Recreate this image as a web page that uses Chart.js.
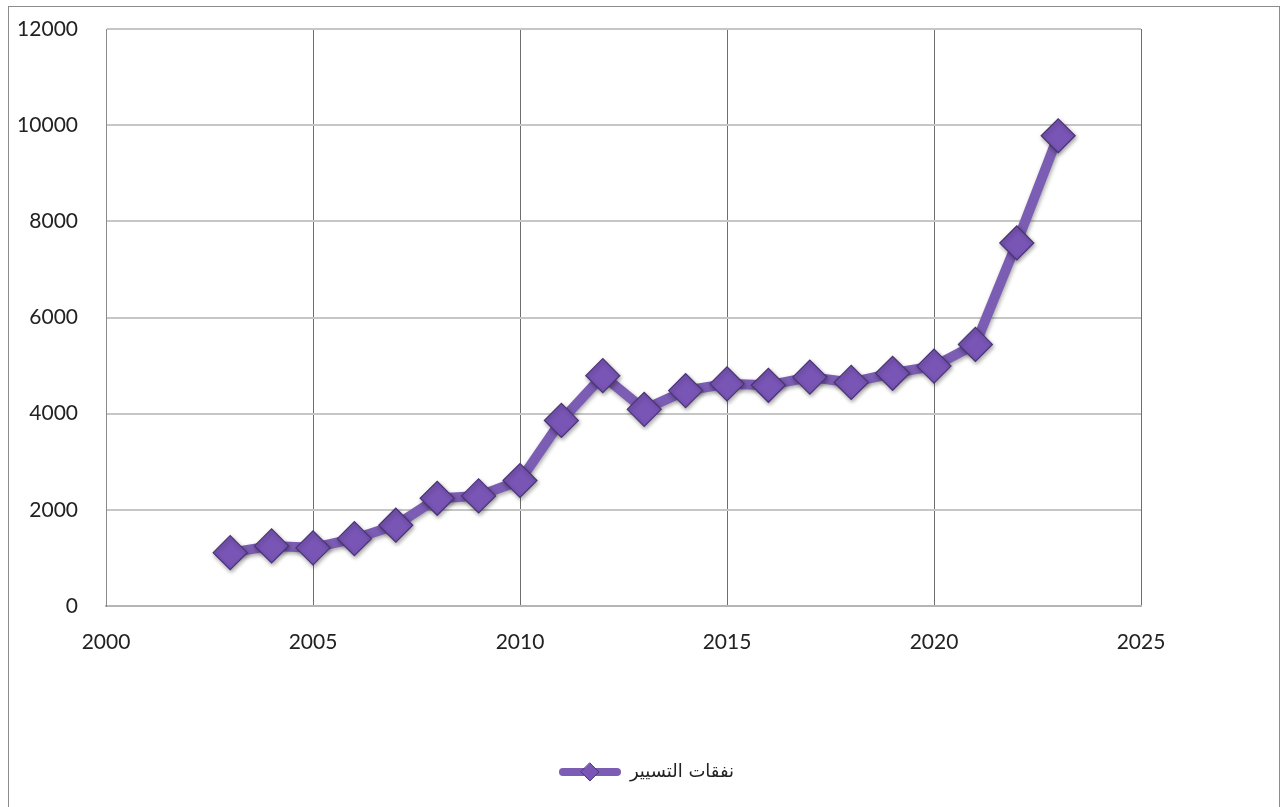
<!DOCTYPE html>
<html>
<head>
<meta charset="utf-8">
<script src="https://cdn.jsdelivr.net/npm/chart.js@4.4.0/dist/chart.umd.min.js"></script>
<style>
  html, body { margin: 0; padding: 0; background: #fff; overflow: hidden; }
  #frame { position: absolute; left: 8px; top: 6px; width: 1270px; height: 900px; border: 1px solid #8c8c8c; }
  #wrap { position: absolute; left: 0; top: 0; width: 1281px; height: 807px; }
</style>
</head>
<body>
<div id="frame"></div>
<div id="wrap"><canvas id="chart" width="1281" height="807"></canvas></div>
<script>
/* ---- data ---- */
const years = [2003, 2004, 2005, 2006, 2007, 2008, 2009, 2010, 2011, 2012, 2013,
               2014, 2015, 2016, 2017, 2018, 2019, 2020, 2021, 2022, 2023];
const spending = [1110, 1250, 1210, 1400, 1680, 2240, 2290, 2610, 3860, 4790, 4090,
                  4480, 4620, 4590, 4760, 4650, 4840, 4990, 5440, 7550, 9780];
const seriesLabel = 'نفقات التسيير';
const xTicks = { min: 2000, max: 2025, step: 5 };
const yTicks = { min: 0, max: 12000, step: 2000 };

const LINE = '#7c5db4';
const FILL = '#7955b6';
const EDGE = '#4a3374';

// legend marker: short thick line with a diamond in the middle
function legendMarker() {
  const c = document.createElement('canvas');
  c.width = 62; c.height = 22;
  const g = c.getContext('2d');
  g.strokeStyle = LINE; g.lineWidth = 8; g.lineCap = 'round';
  g.beginPath(); g.moveTo(4, 11); g.lineTo(58, 11); g.stroke();
  g.fillStyle = FILL; g.strokeStyle = EDGE; g.lineWidth = 1;
  g.beginPath(); g.moveTo(31, 2); g.lineTo(40, 11); g.lineTo(31, 20); g.lineTo(22, 11); g.closePath();
  g.fill(); g.stroke();
  return c;
}

const shadow = {
  id: 'shadow',
  beforeDatasetDraw(chart) {
    const ctx = chart.ctx;
    ctx.save();
    ctx.shadowColor = 'rgba(0,0,0,0.35)';
    ctx.shadowBlur = 4;
    ctx.shadowOffsetX = 1;
    ctx.shadowOffsetY = 2;
  },
  afterDatasetDraw(chart) { chart.ctx.restore(); }
};

const tickFont = { family: 'Lato, "Open Sans", sans-serif', size: 21 };

new Chart(document.getElementById('chart'), {
  type: 'line',
  data: {
    datasets: [{
      label: seriesLabel,
      data: years.map((y, i) => ({ x: y, y: spending[i] })),
      borderColor: LINE,
      borderWidth: 10,
      tension: 0,
      pointStyle: 'rectRot',
      pointRadius: 17,
      pointHoverRadius: 17,
      pointBackgroundColor: FILL,
      pointBorderColor: EDGE,
      pointBorderWidth: 1.2,
    }]
  },
  options: {
    responsive: false,
    animation: false,
    layout: { padding: { left: 12, right: 0, top: 29, bottom: 16 } },
    plugins: {
      tooltip: { enabled: false },
      legend: {
        position: 'bottom',
        labels: {
          usePointStyle: true,
          pointStyleWidth: 62,
          padding: 10,
          color: '#222',
          font: { family: '"DejaVu Sans", sans-serif', size: 18 },
          generateLabels: chart => [{
            text: seriesLabel,
            pointStyle: legendMarker(),
            datasetIndex: 0,
            fontColor: '#222',
            lineWidth: 0,
          }]
        }
      }
    },
    scales: {
      x: {
        type: 'linear',
        min: xTicks.min, max: xTicks.max,
        afterFit: s => { s.height = 147; },
        ticks: { stepSize: xTicks.step, padding: 24, color: '#222', font: tickFont, callback: v => String(v) },
        grid: { color: '#6e6e6e', lineWidth: 1, drawTicks: false },
        border: { color: '#b5b5b5', width: 2 },
      },
      y: {
        min: yTicks.min, max: yTicks.max,
        // keep the wide label gap from pushing the plot down
        afterFit: s => { s.width = 94; s.paddingTop = 11; s.paddingBottom = 11; },
        ticks: { stepSize: yTicks.step, padding: 28, color: '#222', font: tickFont, callback: v => String(v) },
        grid: { color: '#c6c6c6', lineWidth: 2, drawTicks: false },
        border: { color: '#8a8a8a', width: 1 },
      },
      // empty right-hand gutter so the plot ends at 2025 while the legend stays centred
      gutter: {
        position: 'right',
        display: true,
        afterFit: s => { s.width = 140; s.paddingTop = 0; s.paddingBottom = 0; },
        ticks: { display: false },
        grid: { display: false, drawTicks: false },
        border: { display: false },
      }
    }
  },
  plugins: [shadow]
});
</script>
</body>
</html>
